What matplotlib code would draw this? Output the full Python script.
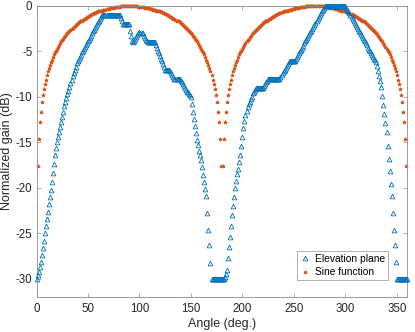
import matplotlib
matplotlib.use('Agg')
import matplotlib.pyplot as plt

# angles in degrees, 1 degree step
elev_angle = list(range(0, 361))
elev_gain = [
    -30.0, -29.6, -29.2, -28.7, -28.1, -27.4, -26.6, -25.8, -25.0, -24.2,
    -23.4, -22.6, -21.8, -21.0, -20.2, -19.4, -18.4, -17.4, -16.4, -15.6,
    -15.0, -14.4, -13.8, -13.3, -12.8, -12.2, -11.6, -11.0, -10.5, -10.1,
    -9.7, -9.3, -8.9, -8.5, -8.1, -7.7, -7.4, -7.0, -6.7, -6.3,
    -6.0, -5.8, -5.6, -5.4, -5.1, -4.9, -4.7, -4.5, -4.3, -4.1,
    -3.9, -3.7, -3.5, -3.3, -3.0, -2.8, -2.6, -2.4, -2.2, -2.0,
    -1.8, -1.6, -1.4, -1.2, -1.0, -1.0, -1.0, -1.0, -1.0, -1.0,
    -1.0, -1.0, -1.0, -1.0, -1.0, -1.0, -1.0, -1.0, -1.0, -1.0,
    -1.0, -1.0, -1.3, -1.7, -2.0, -2.0, -2.0, -2.0, -2.0, -2.0,
    -2.0, -2.7, -3.3, -3.8, -4.0, -3.8, -3.6, -3.4, -3.2, -3.0,
    -2.9, -3.0, -3.0, -3.0, -3.3, -3.5, -3.7, -3.9, -4.0, -4.0,
    -4.0, -4.0, -4.0, -4.0, -4.0, -4.0, -4.3, -4.6, -4.9, -5.2,
    -5.5, -5.8, -6.1, -6.4, -6.7, -7.0, -7.0, -7.0, -7.0, -7.0,
    -7.2, -7.4, -7.6, -7.8, -8.0, -8.0, -8.0, -8.0, -8.0, -8.0,
    -8.2, -8.4, -8.6, -8.8, -9.0, -9.2, -9.4, -9.5, -9.7, -9.8,
    -10.0, -10.8, -11.6, -12.4, -13.2, -14.0, -14.7, -15.3, -15.9, -16.4,
    -16.9, -17.7, -18.6, -19.3, -20.1, -20.9, -22.7, -24.6, -26.3, -28.2,
    -30.0, -30.0, -30.0, -30.0, -30.0, -30.0, -30.0, -30.0, -30.0, -30.0,
    -30.0, -30.0, -30.0, -29.8, -29.5, -29.0, -27.7, -26.5, -25.4, -24.2,
    -23.0, -22.0, -21.0, -20.0, -19.2, -18.5, -17.9, -17.2, -16.4, -15.4,
    -14.4, -13.4, -12.6, -12.0, -11.5, -11.1, -10.8, -10.5, -10.2, -10.0,
    -9.6, -9.4, -9.2, -9.0, -9.0, -9.0, -9.0, -9.0, -9.0, -9.0,
    -9.0, -8.8, -8.6, -8.4, -8.2, -8.0, -8.0, -8.0, -8.0, -8.0,
    -8.0, -8.0, -8.0, -8.0, -8.0, -8.0, -8.0, -7.8, -7.6, -7.4,
    -7.2, -7.0, -6.8, -6.6, -6.4, -6.2, -6.0, -6.0, -6.0, -6.0,
    -6.0, -6.0, -5.8, -5.6, -5.4, -5.2, -5.0, -4.8, -4.6, -4.4,
    -4.1, -3.9, -3.7, -3.5, -3.3, -3.1, -2.9, -2.7, -2.5, -2.3,
    -2.1, -1.9, -1.7, -1.4, -1.2, -1.0, -0.8, -0.6, -0.4, -0.2,
    0.0, 0.0, 0.0, 0.0, 0.0, 0.0, 0.0, 0.0, 0.0, 0.0,
    0.0, 0.0, 0.0, 0.0, 0.0, 0.0, 0.0, 0.0, 0.0, 0.0,
    0.0, -0.2, -0.4, -0.6, -0.8, -1.0, -1.2, -1.4, -1.7, -1.9,
    -2.1, -2.3, -2.5, -2.7, -2.9, -3.1, -3.3, -3.5, -3.7, -3.9,
    -4.1, -4.3, -4.6, -4.8, -5.0, -5.2, -5.4, -5.6, -5.8, -5.9,
    -6.2, -6.6, -7.1, -7.7, -8.3, -8.9, -9.9, -10.9, -11.9, -12.9,
    -13.9, -15.4, -16.8, -18.1, -19.6, -20.9, -22.7, -24.6, -26.3, -28.1,
    -30.0, -30.0, -30.0, -30.0, -30.0, -30.0, -30.0, -30.0, -30.0, -30.0,
    -30.0,
]

# one lobe of the sine curve, 1..179 deg (same lobe repeats 181..359)
sine_lobe = [
    -17.6, -14.6, -12.8, -11.6, -10.6, -9.8, -9.1, -8.6, -8.1, -7.6,
    -7.2, -6.8, -6.5, -6.2, -5.9, -5.6, -5.3, -5.1, -4.9, -4.7,
    -4.5, -4.3, -4.1, -3.9, -3.7, -3.6, -3.4, -3.3, -3.1, -3.0,
    -2.9, -2.8, -2.6, -2.5, -2.4, -2.3, -2.2, -2.1, -2.0, -1.9,
    -1.8, -1.7, -1.7, -1.6, -1.5, -1.4, -1.4, -1.3, -1.2, -1.2,
    -1.1, -1.0, -1.0, -0.9, -0.9, -0.8, -0.8, -0.7, -0.7, -0.6,
    -0.6, -0.5, -0.5, -0.5, -0.4, -0.4, -0.4, -0.3, -0.3, -0.3,
    -0.2, -0.2, -0.2, -0.2, -0.2, -0.1, -0.1, -0.1, -0.1, -0.1,
    -0.1, 0.0, 0.0, 0.0, 0.0, 0.0, 0.0, 0.0, 0.0, 0.0,
    0.0, 0.0, 0.0, 0.0, 0.0, 0.0, 0.0, 0.0, -0.1, -0.1,
    -0.1, -0.1, -0.1, -0.1, -0.2, -0.2, -0.2, -0.2, -0.2, -0.3,
    -0.3, -0.3, -0.4, -0.4, -0.4, -0.5, -0.5, -0.5, -0.6, -0.6,
    -0.7, -0.7, -0.8, -0.8, -0.9, -0.9, -1.0, -1.0, -1.1, -1.2,
    -1.2, -1.3, -1.4, -1.4, -1.5, -1.6, -1.7, -1.7, -1.8, -1.9,
    -2.0, -2.1, -2.2, -2.3, -2.4, -2.5, -2.6, -2.8, -2.9, -3.0,
    -3.1, -3.3, -3.4, -3.6, -3.7, -3.9, -4.1, -4.3, -4.5, -4.7,
    -4.9, -5.1, -5.3, -5.6, -5.9, -6.2, -6.5, -6.8, -7.2, -7.6,
    -8.1, -8.6, -9.1, -9.8, -10.6, -11.6, -12.8, -14.6, -17.6,
]
sine_angle = list(range(1, 180)) + list(range(181, 360))
sine_gain = sine_lobe + sine_lobe

blue = '#0072BD'
orange = '#D95319'
edge = '#8c8c8c'

plt.rcParams['font.family'] = ['Liberation Sans', 'DejaVu Sans']
plt.rcParams['axes.unicode_minus'] = False

fig = plt.figure(figsize=(4.15, 3.32), dpi=100)
ax = fig.add_axes([0.088, 0.105, 0.893, 0.877])

ax.plot(elev_angle, elev_gain, linestyle='none', marker='^', markersize=3.4,
        markerfacecolor='none', markeredgecolor=blue, markeredgewidth=0.6,
        label='Elevation plane', clip_on=False, zorder=3)
ax.plot(sine_angle, sine_gain, linestyle='none', marker='*', markersize=2.7,
        markerfacecolor=orange, markeredgecolor=orange, markeredgewidth=0.6,
        label='Sine function', clip_on=False, zorder=2)

ax.set_xlim(0, 360)
ax.set_ylim(-32, 0)
ax.set_xticks([0, 50, 100, 150, 200, 250, 300, 350])
ax.set_yticks([-30, -25, -20, -15, -10, -5, 0])
ax.tick_params(direction='in', top=True, right=True, length=3, width=0.5,
               color=edge, labelsize=8.3, labelcolor='#262626')
ax.tick_params(axis='x', pad=4.5)
ax.tick_params(axis='y', pad=3)
for s in ax.spines.values():
    s.set_color(edge)
    s.set_linewidth(0.6)

ax.set_xlabel('Angle (deg.)', fontsize=9, color='#262626', labelpad=2)
ax.set_ylabel('Normalized gain (dB)', fontsize=9, color='#262626', labelpad=2)

leg = ax.legend(loc='lower right', bbox_to_anchor=(0.949, 0.058), fontsize=7.4,
                frameon=True, fancybox=False, handlelength=1.0,
                handletextpad=0.5, borderpad=0.3, labelspacing=0.3,
                borderaxespad=0)
leg.get_frame().set_edgecolor(edge)
leg.get_frame().set_linewidth(0.6)

fig.savefig('out.png', dpi=100)
